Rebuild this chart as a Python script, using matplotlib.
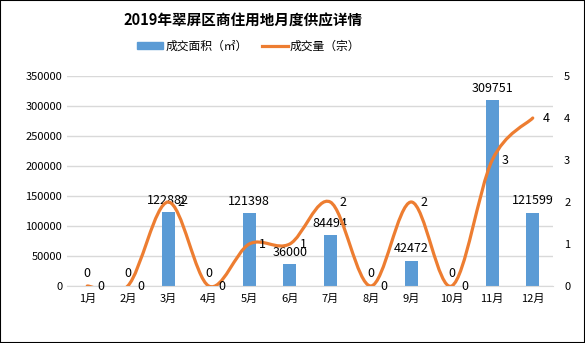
import numpy as np
import matplotlib.pyplot as plt
from matplotlib.path import Path
from matplotlib.patches import PathPatch, Rectangle
from matplotlib.lines import Line2D

plt.rcParams['font.family'] = ['Noto Sans CJK SC', 'DejaVu Sans']

months = ['1月', '2月', '3月', '4月', '5月', '6月', '7月', '8月', '9月', '10月', '11月', '12月']
area = [0, 0, 122882, 0, 121398, 36000, 84494, 0, 42472, 0, 309751, 121599]
count = [0, 0, 2, 0, 1, 1, 2, 0, 2, 0, 3, 4]

blue = '#5B9BD5'
orange = '#ED7D31'

fig = plt.figure(figsize=(5.85, 3.43), dpi=100)
fig.patches.append(Rectangle((0, 0), 1, 1, transform=fig.transFigure,
                             fill=False, edgecolor='black', linewidth=1.5))

ax = fig.add_axes([67 / 585, 1 - 286 / 343, (553 - 67) / 585, 210 / 343])
x = np.arange(len(months))
ax.bar(x, area, width=0.32, color=blue, zorder=2)
ax.set_xlim(-0.5, len(months) - 0.5)
ax.set_ylim(0, 350000)
ax.set_yticks(np.arange(0, 350001, 50000))
ax.grid(axis='y', color='#D9D9D9', linewidth=1, zorder=0)
ax.set_xticks(x)
ax.set_xticklabels(months)
ax.tick_params(length=0, labelsize=8, colors='black')
ax.tick_params(axis='x', pad=6)
for s in ax.spines.values():
    s.set_visible(False)
ax.spines['bottom'].set_visible(True)
ax.spines['bottom'].set_color('#D9D9D9')

for xi, v in zip(x, area):
    ax.annotate(str(v), (xi, v), xytext=(0, 4), textcoords='offset points',
                ha='center', va='bottom', fontsize=9)

ax2 = ax.twinx()
ax2.set_ylim(0, 5)
ax2.set_yticks(range(6))
ax2.tick_params(length=0, labelsize=8, pad=8)
for s in ax2.spines.values():
    s.set_visible(False)

# smoothed line (bezier through the points, like Excel's smoothing)
pts = np.column_stack([x, count]).astype(float)
ext = np.vstack([pts[0], pts, pts[-1]])
verts = [tuple(pts[0])]
codes = [Path.MOVETO]
for i in range(len(pts) - 1):
    p0, p1, p2, p3 = ext[i], ext[i + 1], ext[i + 2], ext[i + 3]
    c1 = p1 + (p2 - p0) / 6
    c2 = p2 - (p3 - p1) / 6
    verts += [tuple(c1), tuple(c2), tuple(p2)]
    codes += [Path.CURVE4] * 3
ax2.add_patch(PathPatch(Path(verts, codes), fill=False, edgecolor=orange,
                        linewidth=2.3, capstyle='round', zorder=3))

for xi, v in zip(x, count):
    ax2.annotate(str(v), (xi, v), xytext=(7, 0), textcoords='offset points',
                 ha='left', va='center', fontsize=9)

fig.text(0.415, 0.94, '2019年翠屏区商住用地月度供应详情', ha='center', va='center',
         fontsize=10.5, fontweight='bold')
handles = [Rectangle((0, 0), 1, 1, color=blue),
           Line2D([0], [0], color=orange, linewidth=2.3)]
fig.legend(handles, ['成交面积（㎡）', '成交量（宗）'], loc='center',
           bbox_to_anchor=(0.425, 0.865), ncol=2, frameon=False, fontsize=8.5,
           handlelength=2.2, handleheight=0.6, columnspacing=1.2, handletextpad=0.2)

fig.savefig('out.png', dpi=100)
